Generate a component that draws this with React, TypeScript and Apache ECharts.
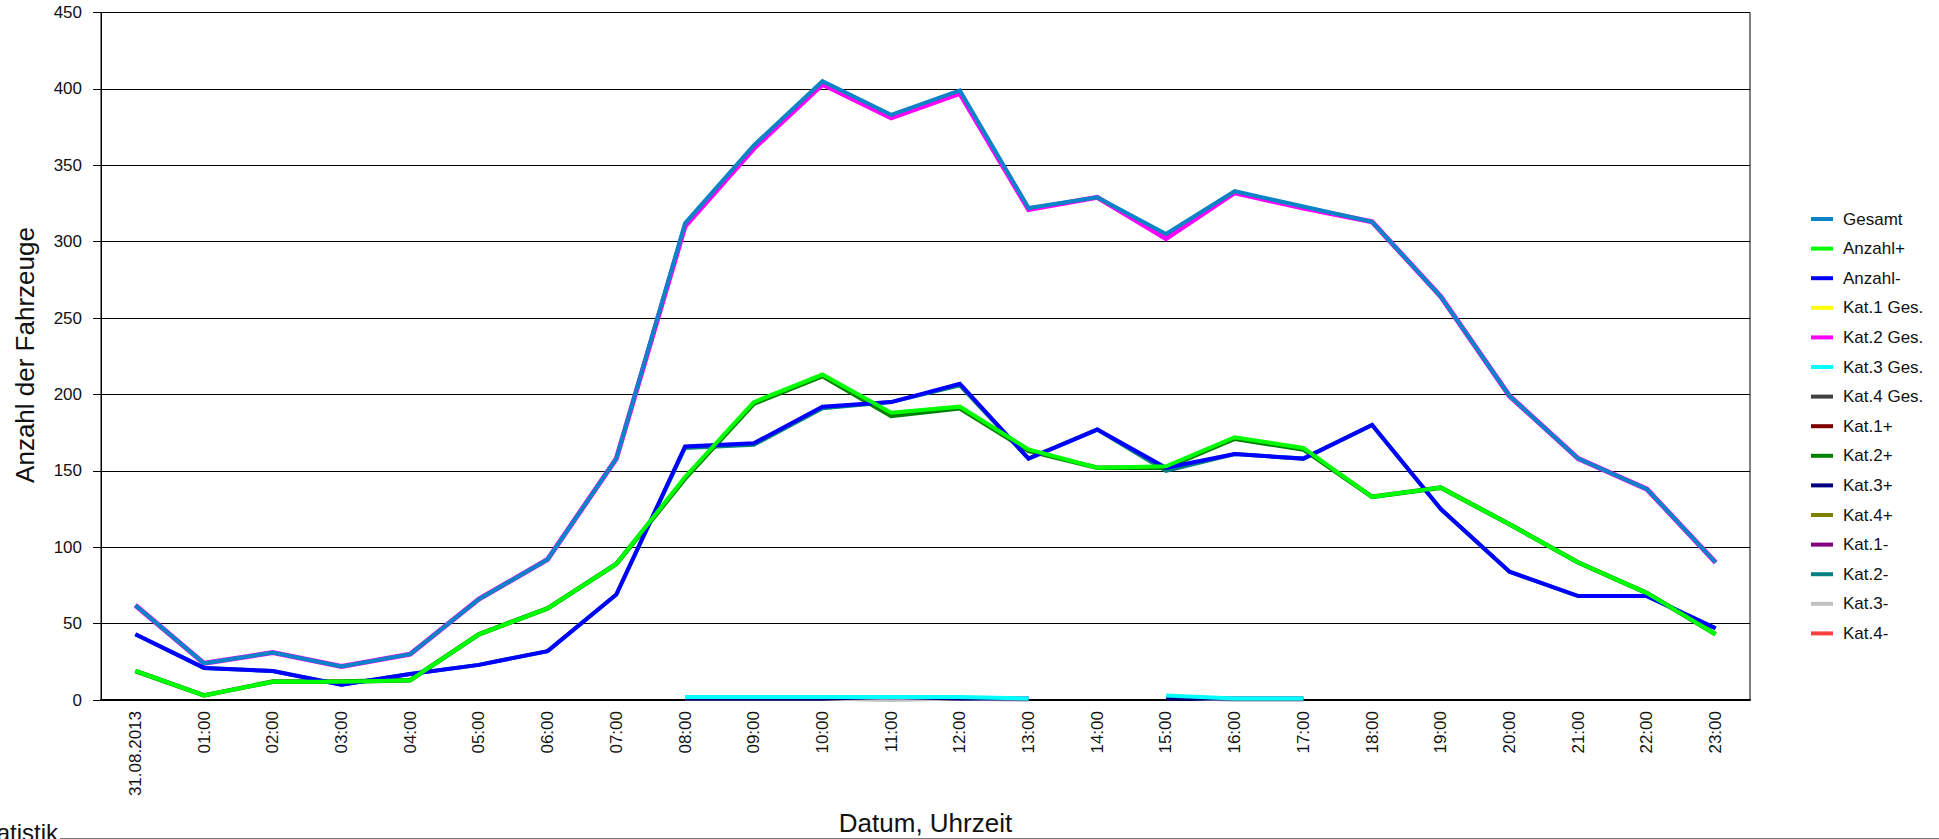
import React, { useEffect, useRef } from "react";
import * as echarts from "echarts";

const hours = [
  "31.08.2013", "01:00", "02:00", "03:00", "04:00", "05:00", "06:00", "07:00",
  "08:00", "09:00", "10:00", "11:00", "12:00", "13:00", "14:00", "15:00",
  "16:00", "17:00", "18:00", "19:00", "20:00", "21:00", "22:00", "23:00",
];

const gesamt = [62, 24, 31, 22, 30, 66, 92, 158, 312, 363, 405, 383, 399, 322, 329, 305, 333, 323, 313, 264, 199, 158, 138, 90];
const anzahlPlus = [19, 3, 12, 12, 13, 43, 60, 89, 146, 195, 213, 188, 192, 164, 152, 153, 172, 165, 133, 139, 115, 90, 70, 43];
const anzahlMinus = [43, 21, 19, 10, 17, 23, 32, 69, 166, 168, 192, 195, 207, 158, 177, 152, 161, 158, 180, 125, 84, 68, 68, 47];
const kat1Ges: (number | null)[] = [];
const kat2Ges = [62, 24, 31, 22, 30, 66, 92, 158, 310, 361, 403, 381, 397, 321, 329, 302, 332, 322, 313, 264, 199, 158, 138, 90];
const kat3Ges = [null, null, null, null, null, null, null, null, 2, 2, 2, 2, 2, 1, null, 3, 1, 1, null, null, null, null, null, null];
const kat4Ges: (number | null)[] = [];
const kat1Plus: (number | null)[] = [];
const kat2Plus = [19, 3, 12, 12, 13, 43, 60, 89, 145, 194, 212, 186, 191, 163, 152, 152, 171, 164, 133, 139, 115, 90, 70, 43];
const kat3Plus = [null, null, null, null, null, null, null, null, 1, 1, 1, 2, 1, 1, null, 1, 1, 1, null, null, null, null, null, null];
const kat4Plus: (number | null)[] = [];
const kat1Minus: (number | null)[] = [];
const kat2Minus = [43, 21, 19, 10, 17, 23, 32, 69, 165, 167, 191, 195, 206, 158, 177, 150, 161, 158, 180, 125, 84, 68, 68, 47];
const kat3Minus = [null, null, null, null, null, null, null, null, 1, 1, 1, 0, 1, 0, null, 2, 0, 0, null, null, null, null, null, null];
const kat4Minus: (number | null)[] = [];

const seriesNames = [
  "Gesamt", "Anzahl+", "Anzahl-", "Kat.1 Ges.", "Kat.2 Ges.", "Kat.3 Ges.", "Kat.4 Ges.",
  "Kat.1+", "Kat.2+", "Kat.3+", "Kat.4+", "Kat.1-", "Kat.2-", "Kat.3-", "Kat.4-",
];
const seriesColors = [
  "#0a84c6", "#00ff00", "#0000ff", "#ffff00", "#ff00ff", "#00ffff", "#404040",
  "#800000", "#008000", "#000080", "#808000", "#800080", "#008080", "#c0c0c0", "#ff4040",
];
const seriesWidths = [4, 4, 4, 4, 5, 4, 4, 4, 4.6, 4, 4, 4, 4, 4, 4];
const seriesData = [
  gesamt, anzahlPlus, anzahlMinus, kat1Ges, kat2Ges, kat3Ges, kat4Ges,
  kat1Plus, kat2Plus, kat3Plus, kat4Plus, kat1Minus, kat2Minus, kat3Minus, kat4Minus,
];

const FONT = "'Liberation Sans', Arial, Helvetica, sans-serif";

export default function App() {
  const ref = useRef<HTMLDivElement>(null);

  useEffect(() => {
    if (!ref.current) return;
    const chart = echarts.init(ref.current, undefined, { renderer: "svg" });
    const plotLeft = 101;
    const plotRight = 1750;
    const plotTop = 12.5;
    const plotBottom = 700;

    chart.setOption({
      animation: false,
      backgroundColor: "#ffffff",
      textStyle: { fontFamily: FONT },
      grid: {
        left: plotLeft,
        right: 1939 - plotRight,
        top: plotTop,
        bottom: 839 - plotBottom,
        show: true,
        borderColor: "#000",
        borderWidth: 1,
        backgroundColor: "transparent",
      },
      legend: {
        data: seriesNames,
        orient: "vertical",
        left: 1811,
        top: 209,
        padding: 0,
        icon: "rect",
        itemWidth: 22,
        itemHeight: 4,
        itemGap: 9.6,
        textStyle: {
          fontSize: 17,
          color: "#111",
          fontFamily: FONT,
          lineHeight: 20,
          padding: [0, 0, 0, 5],
        },
      },
      xAxis: {
        type: "category",
        data: hours,
        boundaryGap: true,
        axisLine: { show: true, lineStyle: { color: "#000", width: 2 } },
        axisTick: { show: false },
        splitLine: { show: false },
        axisLabel: {
          interval: 0,
          rotate: 90,
          margin: 11,
          fontSize: 17,
          color: "#111",
          fontFamily: FONT,
        },
      },
      yAxis: {
        type: "value",
        min: 0,
        max: 450,
        interval: 50,
        axisLine: { show: true, lineStyle: { color: "#000", width: 1 } },
        axisTick: { show: true, length: 8, lineStyle: { color: "#000", width: 1 } },
        splitLine: { show: true, lineStyle: { color: "#000", width: 1 } },
        axisLabel: {
          margin: 19,
          fontSize: 17,
          color: "#111",
          fontFamily: FONT,
        },
      },
      graphic: [
        {
          type: "text",
          x: 25,
          y: 355,
          rotation: Math.PI / 2,
          style: {
            text: "Anzahl der Fahrzeuge",
            fontSize: 26,
            fontFamily: FONT,
            fill: "#111",
            align: "center",
            verticalAlign: "middle",
          },
        },
        {
          type: "text",
          x: (plotLeft + plotRight) / 2,
          y: 823,
          style: {
            text: "Datum, Uhrzeit",
            fontSize: 26,
            fontFamily: FONT,
            fill: "#111",
            align: "center",
            verticalAlign: "middle",
          },
        },
        {
          type: "text",
          x: 58,
          y: 832.5,
          style: {
            text: "Statistik",
            fontSize: 24,
            fontFamily: FONT,
            fill: "#111",
            align: "right",
            verticalAlign: "middle",
          },
        },
        {
          type: "line",
          shape: { x1: 60, y1: 838.5, x2: 1939, y2: 838.5 },
          style: { stroke: "#7a7a7a", lineWidth: 1.2 },
        },
      ],
      series: seriesNames.map((name, i) => ({
        name,
        type: "line",
        data: seriesData[i],
        color: seriesColors[i],
        showSymbol: false,
        symbol: "none",
        connectNulls: false,
        z: 40 - i,
        lineStyle: { width: seriesWidths[i], color: seriesColors[i], cap: "butt", join: "miter" },
        emphasis: { disabled: true },
      })),
    });

    return () => {
      chart.dispose();
    };
  }, []);

  return (
    <div
      ref={ref}
      style={{ position: "absolute", left: 0, top: 0, width: 1939, height: 839 }}
    />
  );
}
